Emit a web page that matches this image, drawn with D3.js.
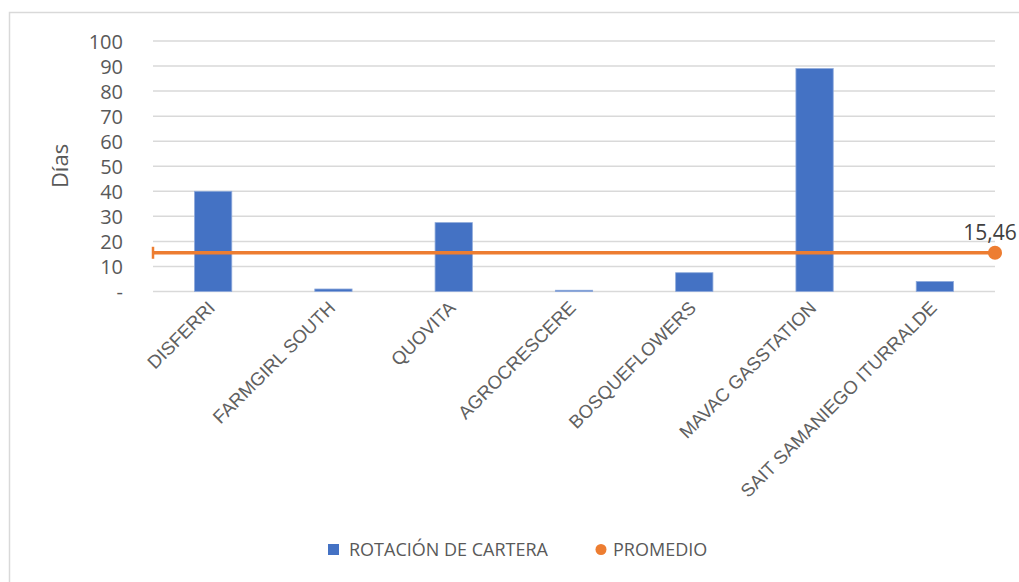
<!DOCTYPE html>
<html>
<head>
<meta charset="utf-8">
<script src="https://cdn.jsdelivr.net/npm/d3@7"></script>
<style>
  body { margin: 0; background: #fff; }
  svg { display: block; }
</style>
</head>
<body>
<svg width="1019" height="582"></svg>
<script>
const empresas = ["DISFERRI", "FARMGIRL SOUTH", "QUOVITA", "AGROCRESCERE", "BOSQUEFLOWERS", "MAVAC GASSTATION", "SAIT SAMANIEGO ITURRALDE"]
const rotacion = [40, 1, 27.5, 0.5, 7.5, 89, 4]
const promedio = 15.46
const yTicks = [0, 10, 20, 30, 40, 50, 60, 70, 80, 90, 100]

const blue = "#4472C4"
const orange = "#ED7D31"
const textColor = "#595959"

var svg = d3.select("svg")
const plotLeft = 153, plotRight = 995, plotTop = 41, plotBottom = 291.5

// chart frame
svg.append("rect")
    .attr("x", 9.5).attr("y", 12.5)
    .attr("width", 1030).attr("height", 600)
    .attr("fill", "none")
    .attr("stroke", "#d9d9d9")
    .attr("stroke-width", 1.5)

var x = d3.scaleBand().domain(empresas).range([plotLeft, plotRight]).paddingInner(0.69).paddingOuter(0.345)
var y = d3.scaleLinear().domain([0, 100]).range([plotBottom, plotTop])

// gridlines
svg.append("g")
    .selectAll("line")
    .data(yTicks)
    .enter().append("line")
    .attr("x1", plotLeft).attr("x2", plotRight)
    .attr("y1", d => y(d)).attr("y2", d => y(d))
    .attr("stroke", "#d9d9d9")
    .attr("stroke-width", 1.5)

// y tick labels
svg.append("g")
    .selectAll("text")
    .data(yTicks)
    .enter().append("text")
    .attr("x", 123)
    .attr("y", d => y(d) + 7.5)
    .attr("text-anchor", "end")
    .attr("font-family", "Open Sans, sans-serif")
    .attr("font-size", 20)
    .attr("fill", textColor)
    .text(d => d === 0 ? "-" : d)

// axis title
svg.append("text")
    .attr("transform", "translate(68,166) rotate(-90)")
    .attr("text-anchor", "middle")
    .attr("font-family", "Open Sans, sans-serif")
    .attr("font-size", 22)
    .attr("fill", textColor)
    .text("Días")

// bars
svg.append("g")
    .selectAll("rect")
    .data(rotacion)
    .enter().append("rect")
    .attr("x", (d, i) => x(empresas[i]))
    .attr("width", x.bandwidth())
    .attr("y", d => y(d))
    .attr("height", d => y(0) - y(d))
    .attr("fill", blue)
    .attr("stroke", "#8eaadb")
    .attr("stroke-width", 0.8)

// category labels
svg.append("g")
    .selectAll("text")
    .data(empresas)
    .enter().append("text")
    .attr("transform", d => "translate(" + (x(d) + x.bandwidth() / 2 + 3) + ",309) rotate(-45)")
    .attr("text-anchor", "end")
    .attr("font-family", "Liberation Sans, Arial, sans-serif")
    .attr("font-size", 18.5)
    .attr("fill", "#606060")
    .text(d => d)

// promedio line
svg.append("line")
    .attr("x1", plotLeft).attr("x2", plotRight)
    .attr("y1", y(promedio)).attr("y2", y(promedio))
    .attr("stroke", orange)
    .attr("stroke-width", 3.5)
svg.append("line")
    .attr("x1", plotLeft).attr("x2", plotLeft)
    .attr("y1", y(promedio) - 6).attr("y2", y(promedio) + 6)
    .attr("stroke", orange)
    .attr("stroke-width", 2.5)
svg.append("circle")
    .attr("cx", plotRight).attr("cy", y(promedio))
    .attr("r", 7)
    .attr("fill", orange)
svg.append("text")
    .attr("x", plotRight - 5)
    .attr("y", y(promedio) - 13)
    .attr("text-anchor", "middle")
    .attr("font-family", "Open Sans, sans-serif")
    .attr("font-size", 21)
    .attr("fill", "#404040")
    .text(promedio.toFixed(2).replace(".", ","))

// legend
var legend = svg.append("g").attr("font-family", "Open Sans, sans-serif").attr("font-size", 18).attr("fill", textColor)
legend.append("rect").attr("x", 328).attr("y", 544).attr("width", 11).attr("height", 11).attr("fill", blue)
legend.append("text").attr("x", 349).attr("y", 556).text("ROTACIÓN DE CARTERA")
legend.append("circle").attr("cx", 601).attr("cy", 549.5).attr("r", 5.5).attr("fill", orange)
legend.append("text").attr("x", 613).attr("y", 556).text("PROMEDIO")
</script>
</body>
</html>
